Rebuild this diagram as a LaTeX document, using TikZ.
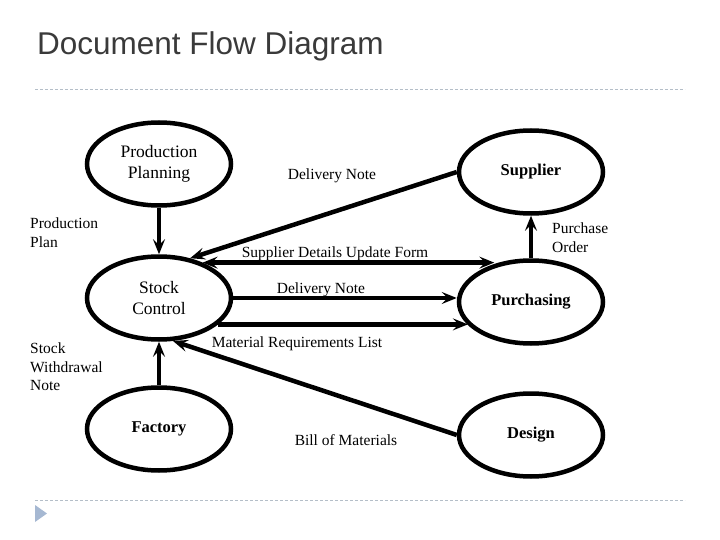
\documentclass[tikz,border=0pt]{standalone}
\usepackage{fontspec}
\setmainfont{Liberation Serif}
\newfontfamily\titlefont{Liberation Sans}
\usetikzlibrary{arrows.meta,shapes.geometric}
\definecolor{titlegray}{HTML}{3A3A3A}
\definecolor{rulegray}{HTML}{B4BEC8}
\definecolor{bulletblue}{HTML}{A6B8D2}
\tikzset{
  proc/.style={ellipse, draw=black, line width=4.5pt, minimum width=144pt,
               minimum height=83pt, inner sep=0pt, align=center},
  procname/.style={font=\fontsize{17.5}{21}\selectfont},
  procbold/.style={font=\bfseries\fontsize{16.5}{20}\selectfont},
  flow/.style={line width=4.5pt, -{Stealth[length=15pt,width=12pt,inset=6pt]}},
  flowboth/.style={line width=4.5pt, {Stealth[length=15pt,width=12pt,inset=6pt]}-{Stealth[length=15pt,width=12pt,inset=6pt]}},
  doc/.style={font=\fontsize{15.5}{18.5}\selectfont, inner sep=0pt},
  rule/.style={rulegray, dashed, line width=0.8pt, dash pattern=on 3pt off 2pt}
}
\begin{document}
\begin{tikzpicture}[x=1pt,y=-1pt]
  \useasboundingbox (0,0) rectangle (720,540);

  % heading and slide rules
  \node[anchor=base west, inner sep=0pt, text=titlegray,
        font=\titlefont\fontsize{31.5}{36}\selectfont] (title) at (37,55) {Document Flow Diagram};
  \draw[rule] (35,89) -- (685,89);
  \draw[rule] (35,500) -- (685,500);
  \fill[bulletblue] (35,505) -- (47,513.5) -- (35,522) -- cycle;

  % processes
  \node[proc, procname] (pp) at (159,164) {Production\\Planning};
  \node[proc, procname] (sc) at (159,298) {Stock\\Control};
  \node[proc, procbold] (fa) at (159,429) {Factory};
  \node[proc, procbold] (su) at (531,172) {Supplier};
  \node[proc, procbold] (pu) at (531,302) {Purchasing};
  \node[proc, procbold] (de) at (531,435) {Design};

  % document flows
  \draw[flow] (pp.south) -- (sc.north);
  \draw[flow] (su.west) -- (sc.52);
  \draw[flowboth] (sc.39) -- (pu.134 |- sc.39);
  \draw[flow] (sc.east) -- (sc.east -| pu.west);
  \draw[flow] (sc.-24) -- (pu.-160 |- sc.-24);
  \draw[flow] (de.west) -- (sc.-72);
  \draw[flow] (fa.north) -- (sc.south);
  \draw[flow] (pu.north) -- (su.south);

  % document names
  \node[doc, align=left, anchor=north west] (ppplan) at (30,218) {Production\\Plan};
  \node[doc] (dnote) at (332,176) {Delivery Note};
  \node[doc] (sdform) at (335,254) {Supplier Details Update Form};
  \node[doc] (dnote2) at (321,290) {Delivery Note};
  \node[doc] (mrlist) at (297,344) {Material Requirements List};
  \node[doc, align=left, anchor=north west] (swnote) at (30,343) {Stock\\Withdrawal\\Note};
  \node[doc] (bom) at (346,440) {Bill of Materials};
  \node[doc, align=left, anchor=north west] (porder) at (552,223) {Purchase\\Order};
\end{tikzpicture}
\end{document}
